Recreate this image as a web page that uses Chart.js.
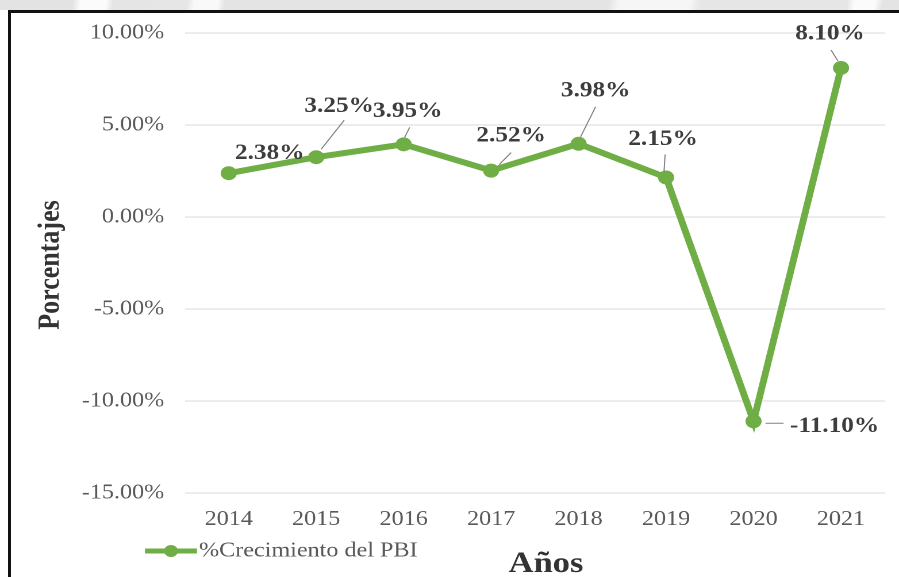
<!DOCTYPE html>
<html>
<head>
<meta charset="utf-8">
<script src="https://cdn.jsdelivr.net/npm/chart.js@4/dist/chart.umd.min.js"></script>
<style>
  html, body { margin: 0; padding: 0; background: #fff; width: 899px; height: 577px; overflow: hidden; position: relative; }
  #strip {
    position: absolute; left: 0; top: 0; width: 899px; height: 10px;
    background: linear-gradient(100deg,
      #e3e3e3 0px, #e3e3e3 72px, #fbfbfb 80px, #fbfbfb 105px, #e5e5e5 112px,
      #e6e6e6 185px, #f9f9f9 192px, #f9f9f9 215px, #e4e4e4 222px,
      #e4e4e4 600px, #f6f6f6 610px, #f6f6f6 680px, #e6e6e6 690px,
      #e6e6e6 835px, #fbfbfb 842px, #fbfbfb 862px, #e4e4e4 870px, #e4e4e4 899px);
  }
  #frame {
    position: absolute; left: 8px; top: 10px; width: 900px; height: 580px;
    border-left: 3px solid #111; border-top: 3px solid #111; background: #fff;
  }
  #wrap {
    position: absolute; left: 0; top: 0; width: 782px; height: 577px;
    transform: scaleX(1.1496); transform-origin: 0 0;
  }
</style>
</head>
<body>
<div id="strip"></div>
<div id="frame"></div>
<div id="wrap"><canvas id="chart"></canvas></div>
<script>
// Annual GDP growth series
const years = ['2014', '2015', '2016', '2017', '2018', '2019', '2020', '2021'];
const growth = [2.38, 3.25, 3.95, 2.52, 3.98, 2.15, -11.10, 8.10];
const yMin = -15;
const yMax = 10;
const yStep = 5;
const seriesName = '%Crecimiento del PBI';
const xTitle = 'Años';
const yTitle = 'Porcentajes';

// horizontal stretch applied to the whole drawing
const SX = 899 / 782;
const GREEN = '#6fad45';
const SERIF = '"Liberation Serif", "Times New Roman", serif';

// label placement relative to each point (screen px): [dx, dy, leader]
// leader: [x1, y1, x2, y2] relative to the point, or null
const labelPlacement = [
  [41, -20, null],
  [23, -51, [28, -37, 5, -8]],
  [4, -33, [6, -17, 1, -7]],
  [20, -35, [20, -18, 8, -6]],
  [17, -53, [17, -37, 2, -7]],
  [-3, -38, [-1, -23, -2, -6]],
  [81, 5, [12, 2, 30, 2]],
  [-11, -34, [-10, -18, -3, -7]]
];

const fmtPct = v => Number(v).toFixed(2) + '%';

const decorations = {
  id: 'decorations',
  afterDatasetsDraw(chart) {
    const ctx = chart.ctx;
    const meta = chart.getDatasetMeta(0);
    ctx.save();
    // value labels with leader lines
    meta.data.forEach((pt, i) => {
      const p = labelPlacement[i];
      const lead = p[2];
      if (lead) {
        ctx.strokeStyle = '#808080';
        ctx.lineWidth = 1;
        ctx.beginPath();
        ctx.moveTo(pt.x + lead[0] / SX, pt.y + lead[1]);
        ctx.lineTo(pt.x + lead[2] / SX, pt.y + lead[3]);
        ctx.stroke();
      }
      ctx.fillStyle = '#3d3d3d';
      ctx.font = 'bold 22px ' + SERIF;
      ctx.textAlign = 'center';
      ctx.textBaseline = 'middle';
      ctx.fillText(fmtPct(chart.data.datasets[0].data[i]), pt.x + p[0] / SX, pt.y + p[1]);
    });
    ctx.restore();
  },
  afterDraw(chart) {
    const ctx = chart.ctx;
    ctx.save();
    // y axis title
    ctx.translate(51 / SX, 265);
    ctx.rotate(-Math.PI / 2);
    ctx.fillStyle = '#333';
    ctx.font = 'bold 26px ' + SERIF;
    ctx.textAlign = 'center';
    ctx.textBaseline = 'middle';
    ctx.fillText(yTitle, 0, 0);
    ctx.restore();

    ctx.save();
    // x axis title
    ctx.fillStyle = '#333';
    ctx.font = 'bold 30px ' + SERIF;
    ctx.textAlign = 'center';
    ctx.textBaseline = 'middle';
    ctx.fillText(xTitle, 546 / SX, 564);

    // legend entry
    const ly = 551;
    ctx.strokeStyle = GREEN;
    ctx.lineWidth = 5;
    ctx.beginPath();
    ctx.moveTo(145 / SX, ly);
    ctx.lineTo(197 / SX, ly);
    ctx.stroke();
    ctx.fillStyle = GREEN;
    ctx.beginPath();
    ctx.arc(171 / SX, ly, 6, 0, Math.PI * 2);
    ctx.fill();
    ctx.fillStyle = '#595959';
    ctx.font = '21px ' + SERIF;
    ctx.textAlign = 'left';
    ctx.fillText(chart.data.datasets[0].label, 199 / SX, ly);
    ctx.restore();
  }
};

new Chart(document.getElementById('chart'), {
  type: 'line',
  data: {
    labels: years,
    datasets: [{
      label: seriesName,
      data: growth,
      borderColor: GREEN,
      backgroundColor: GREEN,
      borderWidth: 6,
      pointRadius: 7,
      pointBorderWidth: 0,
      pointBackgroundColor: GREEN,
      tension: 0
    }]
  },
  options: {
    responsive: true,
    maintainAspectRatio: false,
    animation: false,
    devicePixelRatio: 2,
    layout: { padding: { left: 0, right: 12.4, top: 33, bottom: 0 } },
    plugins: { legend: { display: false }, tooltip: { enabled: false } },
    scales: {
      x: {
        offset: true,
        grid: { display: false, drawTicks: false },
        border: { display: false },
        ticks: { color: '#595959', font: { family: SERIF, size: 21 }, padding: 14, maxRotation: 0 },
        afterFit(axis) { axis.height = 84; }
      },
      y: {
        min: yMin,
        max: yMax,
        grid: { color: '#d9d9d9', lineWidth: 1, drawTicks: false },
        border: { display: false },
        ticks: {
          stepSize: yStep,
          color: '#595959',
          font: { family: SERIF, size: 21 },
          padding: 18,
          callback: v => fmtPct(v)
        },
        afterFit(axis) { axis.width = 185 / SX; }
      }
    }
  },
  plugins: [decorations]
});
</script>
</body>
</html>
